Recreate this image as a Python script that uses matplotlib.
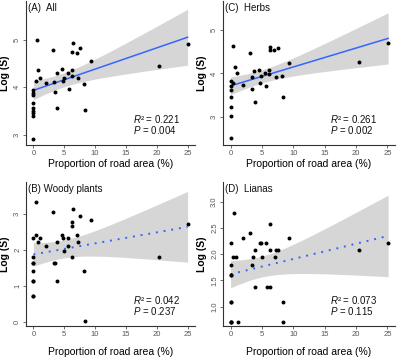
import numpy as np
import matplotlib
matplotlib.use("Agg")
import matplotlib.pyplot as plt

# ---- data (some sites at x = 0 overlap) ----
xA = [0, 0, 0, 0, 0, 0, 0, 0, 0, 0.44, 0.55, 0.8, 1.1, 2.0, 3.13, 3.39, 3.5, 3.77, 3.82,
      4.63, 4.74, 4.9, 5.55, 5.7, 6.2, 6.3, 6.3, 6.35, 7.0, 7.2, 7.58, 8.23, 8.34, 9.3, 20.3, 25.0]
yA = [3.94, 3.88, 3.83, 3.67, 3.56, 3.51, 3.46, 3.40, 2.92, 4.13, 4.99, 4.36, 4.20, 4.09, 4.79, 4.11, 3.90, 4.31, 3.56,
      4.375, 4.14, 4.19, 4.31, 3.96, 4.24, 4.75, 4.36, 4.92, 4.71, 4.20, 4.83, 4.06, 3.53, 4.56, 4.45, 4.90]

xC = [0, 0, 0, 0, 0, 0, 0, 0.37, 0.43, 0.75, 1.07, 2.0, 3.08, 3.35, 3.46, 3.78, 3.84,
      4.6, 4.7, 4.92, 5.5, 5.68, 6.2, 6.2, 6.27, 6.27, 6.9, 7.2, 7.57, 8.2, 8.33, 9.35, 20.5, 25.1]
yC = [3.82, 3.72, 3.61, 3.45, 3.23, 3.01, 2.50, 3.79, 4.63, 4.14, 4.02, 3.74, 4.47, 3.92, 3.63, 4.05, 3.35,
      4.08, 3.79, 3.95, 4.02, 3.71, 4.08, 3.98, 4.61, 4.54, 4.54, 3.91, 4.59, 3.93, 3.45, 4.24, 4.27, 4.70]

xB = [0, 0, 0, 0, 0, 0, 0, 0, 0, 0.44, 0.5, 0.8, 1.15, 2.03, 3.1, 3.39, 3.5, 3.83, 3.88, 4.65, 4.75, 4.9,
      5.57, 5.69, 6.2, 6.3, 6.3, 6.34, 7.0, 7.16, 7.6, 8.2, 8.3, 9.34, 20.4, 25.0]
yB = [2.33, 1.82, 1.64, 1.42, 1.13, 0.72, 0.72, 1.13, 1.64, 2.43, 3.35, 2.23, 2.33, 2.10, 3.06, 1.64, 1.64, 2.23, 1.13, 2.43, 2.33, 1.97,
      2.33, 2.10, 1.81, 2.79, 2.66, 3.16, 2.42, 2.23, 2.96, 1.42, 0.03, 2.85, 1.82, 2.74]

xD = [0, 0, 0, 0, 0, 0, 0, 0, 0, 0.37, 0.54, 0.8, 1.18, 2.05, 3.18, 3.44, 3.5, 3.82, 3.87, 4.68, 4.9, 4.95,
      5.6, 5.76, 6.24, 6.24, 6.34, 7.05, 7.26, 7.63, 8.28, 8.39, 9.35, 20.5, 25.1]
yD = [2.21, 1.79, 1.61, 1.095, 0.70, 0.70, 0.70, 1.095, 1.61, 1.95, 2.78, 1.95, 0.70, 2.30, 2.40, 1.79, 1.95, 2.08, 1.38, 2.21, 2.21, 1.95,
      2.21, 1.38, 1.38, 2.08, 2.58, 1.95, 2.08, 2.08, 1.095, 0.70, 2.30, 2.08, 2.21]

titles = ["(A)  All", "(C)  Herbs", "(B) Woody plants", "(D)  Lianas"]
r2_labels = ["0.221", "0.261", "0.042", "0.073"]
p_labels = ["0.004", "0.002", "0.237", "0.115"]
significant = [True, True, False, False]
yticks_list = [[3, 4, 5], [3, 4, 5], [0, 1, 2, 3], [1.0, 1.5, 2.0, 2.5, 3.0]]
ylims = [(2.79, 5.81), (2.35, 5.67), (-0.12, 3.9), (0.63, 3.375)]
xticks = [0, 5, 10, 15, 20, 25]

plt.rcParams['font.family'] = ['Liberation Sans', 'DejaVu Sans']
plt.rcParams['mathtext.fontset'] = 'custom'
plt.rcParams['mathtext.it'] = 'Liberation Sans:italic'
plt.rcParams['mathtext.rm'] = 'Liberation Sans'

W, H = 403, 364
fig = plt.figure(figsize=(W / 100, H / 100), dpi=100)

# axes boxes in pixels: left, top, right, bottom
boxes = [(26, 1, 195, 145), (223, 1, 395, 145), (26, 182, 195, 326), (223, 182, 395, 326)]
xlab_off = [19, 19, 26, 26]

datasets = [(xA, yA), (xC, yC), (xB, yB), (xD, yD)]
tcrit = 2.03

for i, ((x, y), box) in enumerate(zip(datasets, boxes)):
    l, t, r, b = box
    ax = fig.add_axes([l / W, 1 - b / H, (r - l) / W, (b - t) / H])
    x = np.array(x, float)
    y = np.array(y, float)
    n = len(x)
    slope, intercept = np.polyfit(x, y, 1)
    xs = np.linspace(x.min(), x.max(), 100)
    yh = intercept + slope * xs
    resid = y - (intercept + slope * x)
    s = np.sqrt(np.sum(resid ** 2) / (n - 2))
    se = s * np.sqrt(1 / n + (xs - x.mean()) ** 2 / np.sum((x - x.mean()) ** 2))
    ax.fill_between(xs, yh - tcrit * se, yh + tcrit * se, color='#d6d6d6', lw=0, zorder=1)
    if significant[i]:
        ax.plot(xs, yh, color='#3366FF', lw=1.1, zorder=2)
    else:
        ax.plot(xs, yh, color='#3366FF', lw=1.4, ls=(0, (1, 3)), zorder=2)
    ax.scatter(x, y, s=8, color='black', zorder=3, linewidths=0)

    ax.set_xlim(-1.2, 26.2)
    ax.set_ylim(*ylims[i])
    ax.set_xticks(xticks)
    ax.set_yticks(yticks_list[i])
    if i == 3:
        ax.set_yticklabels([f"{v:.1f}" for v in yticks_list[i]])
    for sp in ['top', 'right']:
        ax.spines[sp].set_visible(False)
    for sp in ['left', 'bottom']:
        ax.spines[sp].set_color('#333333')
        ax.spines[sp].set_linewidth(0.8)
    ax.tick_params(axis='both', colors='#555555', labelsize=5.5, length=2, width=0.6, pad=1.5)
    for lab in ax.get_yticklabels():
        lab.set_rotation(90)
        lab.set_va('center')
    ax.set_ylabel("Log (S)", fontsize=7.5, fontweight='bold', color='black')
    ax.yaxis.set_label_coords(-16 / (r - l), 0.5)
    ax.set_xlabel("Proportion of road area (%)", fontsize=7.5, color='black')
    ax.xaxis.set_label_coords(0.5, -xlab_off[i] / (b - t))
    ax.xaxis.label.set_va('center')

    ax.text(2 / (r - l), 1 - 7 / (b - t), titles[i], transform=ax.transAxes,
            fontsize=7, va='center', ha='left', color='#111111')
    ax.text(107 / (r - l), 1 - 118 / (b - t), r"$\mathit{R}$² = " + r2_labels[i], transform=ax.transAxes,
            fontsize=7, va='center', ha='left', color='#111111')
    ax.text(107 / (r - l), 1 - 129 / (b - t), r"$\mathit{P}$ = " + p_labels[i], transform=ax.transAxes,
            fontsize=7, va='center', ha='left', color='#111111')

fig.savefig("out.png", dpi=100)
